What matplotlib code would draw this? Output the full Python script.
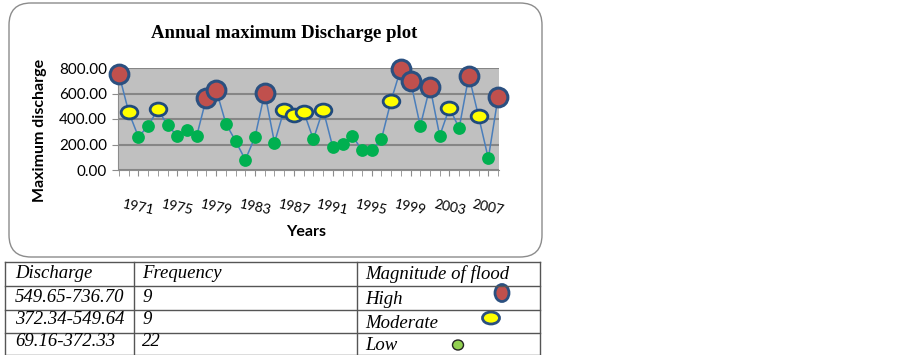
import matplotlib
matplotlib.use("Agg")
import matplotlib.pyplot as plt
from matplotlib.patches import FancyBboxPatch, Ellipse
from matplotlib.path import Path
from matplotlib.transforms import Affine2D
import numpy as np

# ---------------- data ----------------
years = list(range(1969, 2009))
discharge = [752, 455, 260, 345, 476, 350, 268, 313, 268, 567,
             629, 364, 227, 80, 260, 607, 214, 474, 434, 458,
             241, 474, 179, 203, 270, 155, 155, 241, 545, 795,
             696, 345, 653, 268, 487, 329, 739, 420, 91, 570]
tick_years = [1971, 1975, 1979, 1983, 1987, 1991, 1995, 1999, 2003, 2007]
y_ticks = [0, 200, 400, 600, 800]

ranges = ["549.65-736.70", "372.34-549.64", "69.16-372.33"]
freqs = [9, 9, 22]
magnitudes = ["High", "Moderate", "Low"]
low_upper = 372.33
mod_upper = 549.64

W, H = 902, 355
fig = plt.figure(figsize=(W / 100, H / 100), dpi=100)

def fx(px):
    return px / W

def fy(py):
    return 1 - py / H

# overlay axes in pixel coordinates for box and table
ov = fig.add_axes([0, 0, 1, 1])
ov.set_xlim(0, W)
ov.set_ylim(H, 0)
ov.axis("off")

box = FancyBboxPatch((9, 3), 533, 254, boxstyle="round,pad=0,rounding_size=22",
                     facecolor="white", edgecolor="#8C8C8C", linewidth=1.0)
ov.add_patch(box)

# ---------------- chart ----------------
left, right, top, bottom = 118, 499, 68, 170
ax = fig.add_axes([fx(left), fy(bottom), fx(right - left), (bottom - top) / H])
ax.set_facecolor("#C0C0C0")
x = np.arange(len(years))
ax.plot(x, discharge, color="#4A7EBB", linewidth=1.1, zorder=2)
ax.scatter(x, discharge, s=9.2 ** 2, color="#00B050", zorder=3, linewidths=0)

ell_wide = Path.unit_circle().transformed(Affine2D().scale(1.3, 1.0))
hi = [(i, v) for i, v in enumerate(discharge) if v > mod_upper]
md = [(i, v) for i, v in enumerate(discharge) if low_upper < v <= mod_upper]
ax.plot([p[0] for p in hi], [p[1] for p in hi], linestyle="none", marker="o",
        markersize=13.5, markerfacecolor="#C0504D", markeredgecolor="#2B5080",
        markeredgewidth=2.2, zorder=5, clip_on=False)
ax.plot([p[0] for p in md], [p[1] for p in md], linestyle="none", marker=ell_wide,
        markersize=12, markerfacecolor="#FFFF00", markeredgecolor="#1F4A7D",
        markeredgewidth=2.0, zorder=4, clip_on=False)

ax.set_xlim(-0.1, len(years) - 0.9)
ax.set_ylim(0, 800)
ax.set_yticks(y_ticks)
ax.set_yticklabels([f"{v:.2f}" for v in y_ticks], fontfamily="Lato", fontsize=11)
ax.set_xticks(x, minor=True)
ax.set_xticks([years.index(y) for y in tick_years])
ax.set_xticklabels([str(y) for y in tick_years], fontfamily="Lato", fontsize=10,
                   rotation=-12, ha="center")
ax.tick_params(axis="x", which="both", length=4, color="#8C8C8C", pad=16)
ax.tick_params(axis="y", length=4, color="#8C8C8C", pad=4)
ax.grid(axis="y", color="#868686", linewidth=1.5, zorder=1)
ax.set_axisbelow(True)
for s in ["top", "right"]:
    ax.spines[s].set_visible(False)
ax.spines["left"].set_color("#8C8C8C")
ax.spines["bottom"].set_color("#8C8C8C")

ov.text(284, 33, "Annual maximum Discharge plot", fontfamily="Liberation Serif",
        fontweight="bold", fontsize=13.5, ha="center", va="center")
ov.text(40, 130, "Maximum discharge", fontfamily="Lato", fontweight="bold",
        fontsize=11.5, rotation=90, ha="center", va="center")
ov.text(306, 232, "Years", fontfamily="Lato", fontweight="bold", fontsize=11.5,
        ha="center", va="center")

# ---------------- table ----------------
tx = [5, 134, 357, 540]
ty = [262, 286, 310, 333, 355]
for yy in ty:
    ov.plot([tx[0], tx[-1]], [yy, yy], color="#555555", linewidth=1.0, clip_on=False)
for xx in tx:
    ov.plot([xx, xx], [ty[0], ty[-1]], color="#555555", linewidth=1.0, clip_on=False)

tfont = dict(fontfamily="Liberation Serif", fontstyle="italic", fontsize=13.5,
             va="center", ha="left")
ov.text(15, 274, "Discharge", **tfont)
ov.text(142, 274, "Frequency", **tfont)
ov.text(365, 274, "Magnitude of flood", **tfont)
row_y = [299, 322, 344]
for r, (rg, fq, mg) in enumerate(zip(ranges, freqs, magnitudes)):
    ov.text(15, row_y[r] - 2, rg, **tfont)
    ov.text(142, row_y[r] - 2, str(fq), **tfont)
    ov.text(365, row_y[r] + 1, mg, **tfont)

ov.add_patch(Ellipse((502, 293), 14, 17, facecolor="#C0504D", edgecolor="#2B5080", linewidth=2))
ov.add_patch(Ellipse((491, 318), 17, 12, facecolor="#FFFF00", edgecolor="#2B5080", linewidth=2))
ov.add_patch(Ellipse((458, 345), 11, 10, facecolor="#92D050", edgecolor="#222222", linewidth=1))

fig.savefig("out.png", dpi=100)
